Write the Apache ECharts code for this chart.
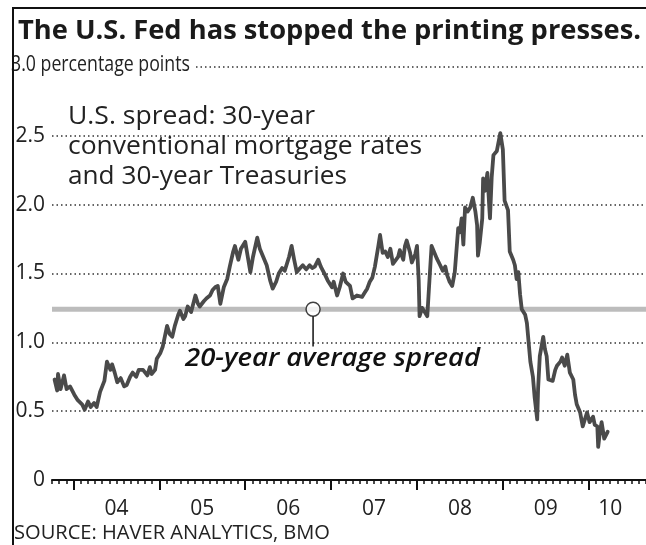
<!DOCTYPE html>
<html>
<head>
<meta charset="utf-8">
<script src="https://cdn.jsdelivr.net/npm/echarts/dist/echarts.min.js"></script>
<style>
html,body{margin:0;padding:0;background:#fff;}
#chart{width:646px;height:545px;}
</style>
</head>
<body>
<div id="chart"></div>
<script>
// ---- data (decimal years, spread in percentage points) ----
const dates = [
  2003.78,2003.81,2003.82,2003.85,2003.89,2003.92,2003.96,2004.01,2004.05,2004.10,
  2004.13,2004.17,2004.20,2004.24,2004.27,2004.31,2004.36,2004.39,2004.43,2004.45,
  2004.48,2004.51,2004.55,2004.59,2004.62,2004.66,2004.69,2004.73,2004.76,2004.81,
  2004.86,2004.89,2004.91,2004.95,2004.97,2005.01,2005.04,2005.09,2005.12,2005.15,
  2005.18,2005.22,2005.24,2005.28,2005.30,2005.33,2005.37,2005.42,2005.45,2005.47,
  2005.52,2005.55,2005.59,2005.62,2005.65,2005.68,2005.71,2005.75,2005.79,2005.82,
  2005.86,2005.88,2005.92,2005.95,2006.00,2006.03,2006.06,2006.09,2006.14,2006.17,
  2006.21,2006.25,2006.29,2006.32,2006.36,2006.39,2006.43,2006.46,2006.51,2006.54,
  2006.57,2006.60,2006.64,2006.67,2006.71,2006.75,2006.78,2006.81,2006.85,2006.88,
  2006.93,2006.96,2007.01,2007.03,2007.07,2007.10,2007.14,2007.17,2007.22,2007.25,
  2007.30,2007.36,2007.39,2007.42,2007.45,2007.48,2007.51,2007.55,2007.57,2007.60,
  2007.63,2007.66,2007.69,2007.72,2007.74,2007.78,2007.80,2007.84,2007.86,2007.88,
  2007.92,2007.94,2007.98,2008.00,2008.02,2008.03,2008.06,2008.09,2008.12,2008.14,
  2008.16,2008.17,2008.21,2008.23,2008.27,2008.30,2008.33,2008.35,2008.38,2008.41,
  2008.44,2008.48,2008.50,2008.52,2008.54,2008.56,2008.59,2008.62,2008.65,2008.68,
  2008.70,2008.71,2008.73,2008.76,2008.77,2008.79,2008.82,2008.84,2008.85,2008.87,
  2008.89,2008.93,2008.97,2009.00,2009.02,2009.06,2009.08,2009.12,2009.14,2009.16,
  2009.18,2009.20,2009.22,2009.26,2009.28,2009.30,2009.32,2009.35,2009.37,2009.40,
  2009.41,2009.43,2009.47,2009.49,2009.51,2009.53,2009.55,2009.58,2009.61,2009.63,
  2009.67,2009.69,2009.72,2009.75,2009.78,2009.82,2009.84,2009.86,2009.90,2009.93,
  2009.96,2009.98,2010.01,2010.05,2010.07,2010.10,2010.11,2010.13,2010.15,2010.18,
  2010.19,2010.22
];
const spread = [
  0.73,0.65,0.77,0.66,0.76,0.66,0.68,0.62,0.58,0.55,
  0.51,0.57,0.53,0.56,0.53,0.64,0.72,0.86,0.80,0.84,
  0.78,0.71,0.74,0.68,0.69,0.75,0.78,0.75,0.80,0.80,
  0.76,0.82,0.77,0.80,0.88,0.92,0.97,1.12,1.06,1.04,
  1.12,1.20,1.23,1.17,1.19,1.26,1.22,1.34,1.28,1.26,
  1.30,1.32,1.34,1.38,1.40,1.41,1.28,1.40,1.46,1.55,
  1.66,1.70,1.60,1.68,1.73,1.62,1.51,1.62,1.76,1.68,
  1.62,1.56,1.45,1.39,1.44,1.50,1.54,1.52,1.62,1.70,
  1.60,1.51,1.54,1.56,1.53,1.56,1.54,1.55,1.60,1.55,
  1.49,1.45,1.40,1.44,1.34,1.40,1.50,1.44,1.41,1.32,
  1.34,1.33,1.36,1.39,1.44,1.47,1.55,1.70,1.78,1.65,
  1.66,1.62,1.68,1.57,1.57,1.62,1.67,1.60,1.70,1.74,
  1.65,1.58,1.64,1.70,1.45,1.19,1.25,1.22,1.19,1.40,
  1.60,1.70,1.64,1.61,1.56,1.52,1.55,1.49,1.44,1.41,
  1.51,1.83,1.80,1.90,1.71,1.98,1.95,1.98,2.05,1.95,
  1.85,1.63,1.72,1.90,2.19,2.10,2.23,2.00,1.90,2.20,
  2.36,2.39,2.52,2.40,2.03,1.96,1.66,1.60,1.56,1.46,
  1.51,1.35,1.24,1.20,1.14,1.00,0.86,0.75,0.60,0.44,
  0.66,0.90,1.04,0.95,0.90,0.73,0.74,0.72,0.80,0.83,
  0.86,0.89,0.83,0.91,0.78,0.73,0.62,0.55,0.49,0.39,
  0.45,0.49,0.42,0.46,0.40,0.39,0.24,0.35,0.42,0.30,
  0.31,0.35
];
const averageSpread = 1.24;           // 20-year average
const annotationDate = 2006.79;       // where the callout touches the average line
const xStart = 2003.75, xEnd = 2010.6667; // Oct 2003 .. Sep 2010
const xTickLabels = ['04','05','06','07','08','09','10'];
const yTickLabels = ['0','0.5','1.0','1.5','2.0','2.5','3.0'];

// month categories for the tick axis (Oct 2003 .. Sep 2010)
const months = [];
for (let i = 0; i < 84; i++) {
  const m = 9 + i;
  const y = 2003 + Math.floor(m / 12);
  const mm = (m % 12) + 1;
  months.push(y + '-' + (mm < 10 ? '0' + mm : '' + mm));
}

const FAM = "'Open Sans'";
const ctx = document.createElement('canvas').getContext('2d');
function fontStr(size, weight, style) { return (style || 'normal') + ' ' + (weight || 'normal') + ' ' + size + 'px ' + FAM; }
function measure(text, font) { ctx.font = font; return ctx.measureText(text).width; }
function label(text, x, y, size, targetW, opt) {
  opt = opt || {};
  const f = fontStr(size, opt.weight, opt.style);
  const s = targetW ? targetW / measure(text, f) : 1;
  const st = { text: text, font: f, fill: opt.fill || '#222', align: 'left', verticalAlign: 'middle' };
  if (opt.bg) { st.backgroundColor = opt.bg; st.padding = [3, 4, 3, 0]; }
  return { type: 'text', x: x, y: y, scaleX: s, z: opt.z || 20, style: st };
}

const chart = echarts.init(document.getElementById('chart'), null, { renderer: 'canvas' });

chart.setOption({
  animation: false,
  backgroundColor: '#fff',
  grid: { left: 52, right: 0, top: 67, bottom: 65, containLabel: false },
  xAxis: [
    { type: 'value', min: xStart, max: xEnd, show: false },
    {
      type: 'category', data: months, boundaryGap: false, position: 'bottom',
      axisLine: { show: true, lineStyle: { color: '#111', width: 2 } },
      axisTick: { show: true, interval: 0, length: 4, lineStyle: { color: '#111', width: 1.5 } },
      axisLabel: {
        show: true, margin: 19, fontSize: 21, color: '#222', fontFamily: FAM,
        interval: function (i, v) { return (v.slice(5) === '07' && v < '2010') || v === '2010-04'; },
        formatter: function (v) { return xTickLabels[parseInt(v.slice(0, 4), 10) - 2004]; }
      },
      splitLine: { show: false }
    },
    {
      type: 'category', data: months, boundaryGap: false, position: 'bottom',
      axisLine: { show: false },
      axisTick: { show: true, length: 10, lineStyle: { color: '#111', width: 2 },
        interval: function (i, v) { return v.slice(5) === '01'; } },
      axisLabel: { show: false },
      splitLine: { show: false }
    }
  ],
  yAxis: {
    type: 'value', min: 0, max: 3, interval: 0.5,
    axisLine: { show: false }, axisTick: { show: false },
    axisLabel: {
      margin: 7, fontSize: 21, color: '#222', fontFamily: FAM, padding: [3, 0, 0, 0],
      formatter: function (v) { const idx = Math.round(v * 2); return idx === 6 ? '' : yTickLabels[idx]; }
    },
    splitLine: { show: true, lineStyle: { color: '#333', width: 1.5, type: [1.5, 3] } }
  },
  series: [
    {
      name: 'average', type: 'line', xAxisIndex: 0, yAxisIndex: 0, z: 2,
      data: [[xStart, averageSpread], [xEnd, averageSpread]],
      symbol: 'none', lineStyle: { color: '#bcbcbc', width: 5 }, silent: true
    },
    {
      name: 'spread', type: 'line', xAxisIndex: 0, yAxisIndex: 0, z: 4,
      data: dates.map(function (d, i) { return [d, spread[i]]; }),
      symbol: 'none', lineStyle: { color: '#4a4a4a', width: 3.8, join: 'round', cap: 'round' }
    },
    {
      name: 'leader', type: 'line', xAxisIndex: 0, yAxisIndex: 0, z: 5,
      data: [[annotationDate, averageSpread - 0.05], [annotationDate, 0.97]],
      symbol: 'none', lineStyle: { color: '#111', width: 1.5 }
    },
    {
      name: 'marker', type: 'scatter', xAxisIndex: 0, yAxisIndex: 0, z: 6,
      data: [[annotationDate, averageSpread]],
      symbol: 'circle', symbolSize: 14,
      itemStyle: { color: '#fff', borderColor: '#111', borderWidth: 1.5 }
    }
  ],
  graphic: [
    label('The U.S. Fed has stopped the printing presses.', 18, 31, 27, 623, { weight: 'bold', fill: '#1a1a1a' }),
    label('3.0 percentage points', 11, 65, 21, 179, { bg: '#fff', z: 15 }),
    label('U.S. spread: 30-year', 68, 117, 25, 247),
    label('conventional mortgage rates', 68, 147, 25, 354),
    label('and 30-year Treasuries', 68, 177, 25, 279),
    label('20-year average spread', 185, 359, 25, 295, { style: 'italic', weight: '600', fill: '#111' }),
    label('SOURCE: HAVER ANALYTICS, BMO', 14, 533, 20, 316),
    { type: 'line', z: 30, shape: { x1: 13, y1: 7, x2: 13, y2: 545 }, style: { stroke: '#111', lineWidth: 2 } },
    { type: 'line', z: 30, shape: { x1: 12, y1: 8, x2: 646, y2: 8 }, style: { stroke: '#111', lineWidth: 2 } }
  ]
});
</script>
</body>
</html>
